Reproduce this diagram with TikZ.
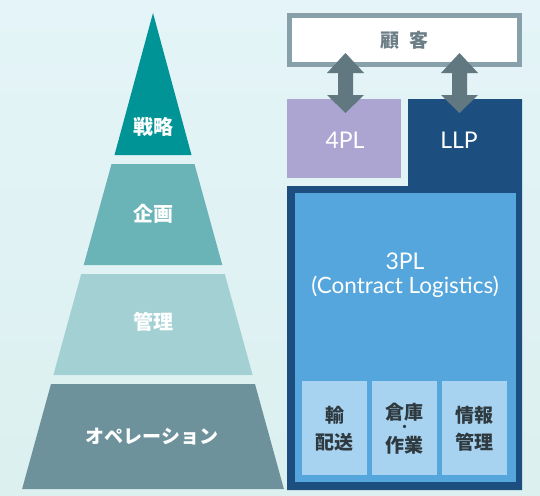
\documentclass[tikz,border=0pt]{standalone}
\usepackage{fontspec}
\setmainfont{Noto Sans CJK JP}
\newfontfamily\latinfont{Lato}
\definecolor{bgtop}{HTML}{E4F4F8}
\definecolor{bgbot}{HTML}{DCF0EF}
\definecolor{segA}{HTML}{009496}
\definecolor{segB}{HTML}{6AB4B8}
\definecolor{segC}{HTML}{A3D0D3}
\definecolor{segD}{HTML}{6D929C}
\definecolor{custborder}{HTML}{87A0AA}
\definecolor{custtext}{HTML}{6B7E86}
\definecolor{arrowcol}{HTML}{627880}
\definecolor{fourpl}{HTML}{ACA5D1}
\definecolor{llp}{HTML}{1C4E7F}
\definecolor{threepl}{HTML}{55A6DC}
\definecolor{func}{HTML}{A7D3F0}
\definecolor{functext}{HTML}{2F3A40}
\tikzset{
  pyrlabel/.style={text=white,font=\fontsize{20}{22}\selectfont\bfseries,inner sep=0pt},
  boxlabel/.style={text=white,font=\fontsize{23}{26}\selectfont\latinfont,inner sep=0pt},
  funcbox/.style={fill=func,draw=none,minimum width=65pt,minimum height=94pt,inner sep=0pt},
  funclabel/.style={text=functext,font=\fontsize{19}{27}\selectfont\bfseries,align=center,inner sep=0pt},
  fatarrow/.style={fill=arrowcol,draw=none},
}
\begin{document}
\begin{tikzpicture}[x=1pt,y=-1pt]
\useasboundingbox (0,0) rectangle (540,495);
\shade[top color=bgtop,bottom color=bgbot] (0,0) rectangle (540,495);
% pyramid
\fill[segA] (153,13) -- (191.5,155) -- (114.5,155) -- cycle;
\fill[segB] (111.5,164) -- (194.5,164) -- (222.3,265) -- (83.7,265) -- cycle;
\fill[segC] (81.2,274) -- (224.8,274) -- (252.6,375) -- (53.4,375) -- cycle;
\fill[segD] (51,384) -- (255,384) -- (283.9,489) -- (22.1,489) -- cycle;
\node[pyrlabel] (senryaku) at (153,127) {戦略};
\node[pyrlabel] (kikaku) at (153,214) {企画};
\node[pyrlabel] (kanri) at (153,322) {管理};
\node[pyrlabel,font=\fontsize{19}{22}\selectfont\bfseries] (ops) at (152,437) {オペレーション};
% customer
\node[draw=custborder,line width=5pt,fill=white,minimum width=230pt,minimum height=48pt,inner sep=0pt,
  text=custtext,font=\fontsize{19}{22}\selectfont\bfseries] (cust) at (404.5,40) {顧\hspace{10pt}客};
% 4PL
\node[fill=fourpl,minimum width=114pt,minimum height=79pt,inner sep=0pt] (fourbox) at (344,138.5) {};
\node[boxlabel] (fourtxt) at (345,140) {4PL};
% LLP region
\fill[llp] (408,99) -- (522,99) -- (522,490) -- (287,490) -- (287,186) -- (408,186) -- cycle;
\node[boxlabel] (llptxt) at (459,140) {LLP};
% 3PL
\node[fill=threepl,minimum width=221pt,minimum height=289pt,inner sep=0pt] (threebox) at (405.5,337.5) {};
\node[boxlabel] (threetxt) at (405,261) {3PL};
\node[text=white,font=\fontsize{22.5}{26}\selectfont\latinfont,inner sep=0pt] (contract) at (405,287) {(Contract Logistics)};
% function boxes
\node[funcbox] (f1) at (334.5,428) {};
\node[funcbox] (f2) at (404.5,428) {};
\node[funcbox] (f3) at (474.5,428) {};
\node[funclabel] (t1) at (334.5,428.5) {輸\\配送};
\node[funclabel] (t2a) at (404.5,412) {倉庫};
\node[funclabel,font=\fontsize{12}{12}\selectfont\bfseries] (t2b) at (404.5,428) {・};
\node[funclabel] (t2c) at (404.5,445) {作業};
\node[funclabel] (t3) at (474.5,428.5) {情報\\管理};
% arrows
\coordinate (a1t) at (345.5,53);
\coordinate (a1b) at (345.5,113);
\coordinate (a2t) at (459.5,53);
\coordinate (a2b) at (459.5,113);
\foreach \c in {345.5,459.5}{
  \fill[fatarrow] (\c,53) -- (\c+18.5,73) -- (\c+7.5,73) -- (\c+7.5,95) -- (\c+18.5,95) -- (\c,113)
    -- (\c-18.5,95) -- (\c-7.5,95) -- (\c-7.5,73) -- (\c-18.5,73) -- cycle;
}
\end{tikzpicture}
\end{document}
